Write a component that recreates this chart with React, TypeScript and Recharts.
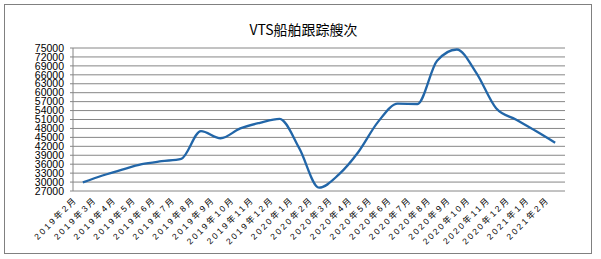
import React from "react";
import { LineChart, Line, XAxis, YAxis, CartesianGrid } from "recharts";

const months = [
    "2019年2月", "2019年3月", "2019年4月", "2019年5月", "2019年6月", "2019年7月",
    "2019年8月", "2019年9月", "2019年10月", "2019年11月", "2019年12月",
    "2020年1月", "2020年2月", "2020年3月", "2020年4月", "2020年5月", "2020年6月",
    "2020年7月", "2020年8月", "2020年9月", "2020年10月", "2020年11月", "2020年12月",
    "2021年1月", "2021年2月",
];

const shipCounts = [
    29900, 32200, 34200, 36000, 37000, 37800, 47100, 44700, 48000, 49900, 51200,
    41300, 28100, 32500, 40100, 50200, 56300, 56200, 70700, 74500, 66600, 54800,
    51000, 47200, 43200,
];

const yTicks = [
    27000, 30000, 33000, 36000, 39000, 42000, 45000, 48000, 51000, 54000, 57000,
    60000, 63000, 66000, 69000, 72000, 75000,
];

const data = months.map((m, i) => ({ idx: i, month: m, count: shipCounts[i] }));
// tick marks sit between categories, labels on the categories
const boundTicks = months.map((_, i) => i - 0.5).concat(months.length - 0.5);
const labelTicks = months.map((_, i) => i);

const GRID = "#868686";

const MonthTick = ({ x, y, payload }: any) => (
    <g transform={`translate(${x - 5},${y + 9})`}>
        <text
            transform="rotate(-45)"
            textAnchor="end"
            fontSize={8.5}
            letterSpacing={2.3}
            fill="#000"
            fontFamily="Liberation Sans, Noto Sans CJK SC, sans-serif"
        >
            {months[payload.value]}
        </text>
    </g>
);

export default function App() {
    return (
        <div style={{ position: "absolute", left: 0, top: 0, width: 601, height: 259, background: "#fff" }}>
            <div
                style={{
                    position: "absolute",
                    left: 4,
                    top: 4,
                    width: 588,
                    height: 250,
                    boxSizing: "border-box",
                    border: "1px solid #808080",
                }}
            />
            <div
                style={{
                    position: "absolute",
                    left: 0,
                    width: 601,
                    top: 20,
                    textAlign: "center",
                    paddingLeft: 6,
                    boxSizing: "border-box",
                    fontSize: 14,
                    lineHeight: "18px",
                    fontFamily: "Noto Sans CJK SC, sans-serif",
                    color: "#000",
                }}
            >
                VTS船舶跟踪艘次
            </div>
            <div style={{ position: "absolute", left: 0, top: 0 }}>
                <LineChart width={601} height={259} data={data} margin={{ top: 48, right: 36, bottom: 0, left: 0 }}>
                    <CartesianGrid xAxisId="marks" vertical={false} stroke={GRID} />
                    <XAxis
                        xAxisId="marks"
                        type="number"
                        dataKey="idx"
                        domain={[-0.5, months.length - 0.5]}
                        ticks={boundTicks}
                        interval={0}
                        tickFormatter={() => ""}
                        tickSize={4}
                        height={0}
                        stroke={GRID}
                        tickLine={{ stroke: GRID }}
                    />
                    <XAxis
                        xAxisId="labels"
                        type="number"
                        dataKey="idx"
                        domain={[-0.5, months.length - 0.5]}
                        ticks={labelTicks}
                        interval={0}
                        axisLine={false}
                        tickLine={false}
                        tickSize={0}
                        tickMargin={0}
                        height={68}
                        tick={<MonthTick />}
                    />
                    <YAxis
                        domain={[27000, 75000]}
                        ticks={yTicks}
                        interval={0}
                        width={73}
                        tickSize={3}
                        tickMargin={6}
                        stroke={GRID}
                        tickLine={{ stroke: GRID }}
                        tick={{ fill: "#000", fontSize: 10.5, fontFamily: "Liberation Sans, sans-serif" }}
                    />
                    <Line
                        xAxisId="marks"
                        type="monotone"
                        dataKey="count"
                        stroke="#2266a8"
                        strokeWidth={2.3}
                        dot={false}
                        isAnimationActive={false}
                    />
                </LineChart>
            </div>
        </div>
    );
}
